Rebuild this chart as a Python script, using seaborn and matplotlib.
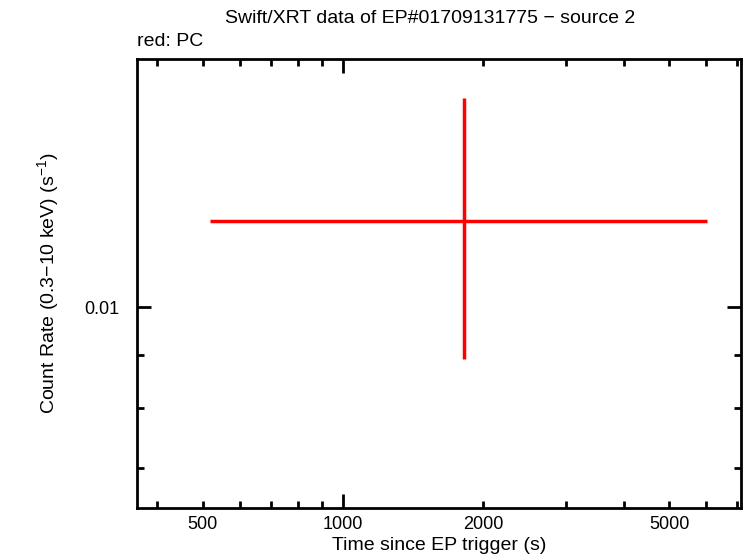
import numpy as np
import matplotlib
matplotlib.use("Agg")
import matplotlib.pyplot as plt
import matplotlib.ticker as mticker
import seaborn as sns

# one PC-mode bin
time = [1817.0]
time_lo = [518.5]
time_hi = [6032.0]
rate = [0.01212]
rate_lo = [0.00892]
rate_hi = [0.01592]

x_labelled = [500, 1000, 2000, 5000]
x_labels = ["500", "1000", "2000", "5000"]
y_labelled = [0.01]
y_labels = ["0.01"]

sns.set_theme(style="ticks")
plt.rcParams["font.family"] = ["Liberation Sans", "DejaVu Sans"]
plt.rcParams["mathtext.fontset"] = "custom"
plt.rcParams["mathtext.rm"] = "Liberation Sans"
plt.rcParams["mathtext.default"] = "regular"

t = np.array(time)
r = np.array(rate)
xerr = [t - np.array(time_lo), np.array(time_hi) - t]
yerr = [r - np.array(rate_lo), np.array(rate_hi) - r]

fig = plt.figure(figsize=(7.46, 5.58), dpi=100)
ax = fig.add_axes([0.1843, 0.0905, 0.809, 0.8038])

ax.errorbar(t, r, xerr=xerr, yerr=yerr, fmt="none", ecolor="#ff0000",
            elinewidth=2.5, capsize=0)

ax.set_xscale("log")
ax.set_yscale("log")
ax.set_xlim(362.6, 7133)
ax.set_ylim(0.00641, 0.01735)


def label_from(values, labels):
    def f(v, pos):
        for val, lab in zip(values, labels):
            if abs(v - val) / val < 1e-6:
                return lab
        return ""
    return mticker.FuncFormatter(f)


# long ticks only at decades, labels also on some minor ticks
ax.xaxis.set_major_locator(mticker.LogLocator(base=10))
ax.xaxis.set_minor_locator(mticker.LogLocator(base=10, subs=np.arange(2, 10)))
ax.xaxis.set_major_formatter(label_from(x_labelled, x_labels))
ax.xaxis.set_minor_formatter(label_from(x_labelled, x_labels))
ax.yaxis.set_major_locator(mticker.LogLocator(base=10))
ax.yaxis.set_minor_locator(mticker.LogLocator(base=10, subs=np.arange(2, 10)))
ax.yaxis.set_major_formatter(label_from(y_labelled, y_labels))
ax.yaxis.set_minor_formatter(label_from(y_labelled, y_labels))

ax.tick_params(which="both", direction="in", top=True, right=True,
               color="black", width=2, labelsize=13, labelcolor="black")
ax.tick_params(which="major", length=10)
ax.tick_params(which="minor", length=5)
ax.tick_params(axis="x", which="both", pad=6)
ax.tick_params(axis="y", which="both", pad=13)
for s in ax.spines.values():
    s.set_linewidth(2)
    s.set_color("black")

ax.set_xlabel("Time since EP trigger (s)", fontsize=14, color="black", labelpad=3)
ax.set_ylabel("Count Rate (0.3\u221210 keV) (s$^{-1}$)", fontsize=14,
              color="black", labelpad=17)
fig.text(0.577, 0.966, "Swift/XRT data of EP#01709131775 \u2212 source 2",
         ha="center", va="center", fontsize=14, color="black")
fig.text(0.1843, 0.925, "red: PC", ha="left", va="center", fontsize=14,
         color="black")

fig.savefig("out.png", dpi=100, facecolor="white")
